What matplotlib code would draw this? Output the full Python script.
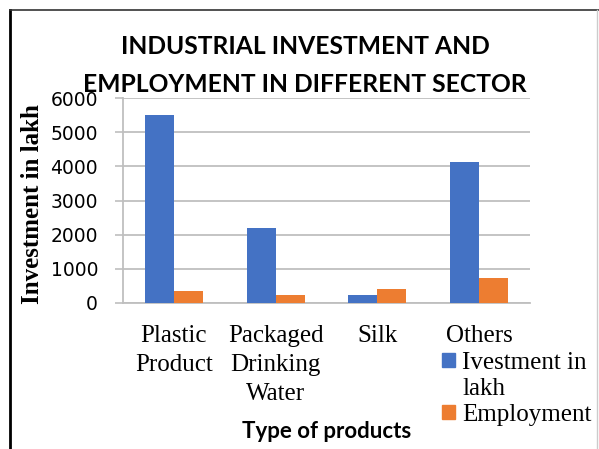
import matplotlib
matplotlib.use("Agg")
import matplotlib.pyplot as plt
import numpy as np
from matplotlib.patches import Patch
from matplotlib.lines import Line2D

categories = ["Plastic\nProduct", "Packaged\nDrinking\nWater", "Silk", "Others"]
investment = [5500, 2200, 230, 4130]
employment = [360, 240, 410, 740]
yticks = [0, 1000, 2000, 3000, 4000, 5000, 6000]

blue = "#4472C4"
orange = "#ED7D31"
grid = "#BFBFBF"

fig = plt.figure(figsize=(5.99, 4.49), dpi=100)
ax = fig.add_axes([123/599, 1-303/449, (530-123)/599, (303-98)/449])

x = np.arange(len(categories))
w = 1/3.5
ax.bar(x - w/2, investment, width=w, color=blue, zorder=3)
ax.bar(x + w/2, employment, width=w, color=orange, zorder=3)

ax.set_xlim(-0.5, len(categories) - 0.5)
ax.set_ylim(0, 6000)
ax.set_yticks(yticks)
ax.set_yticklabels([str(t) for t in yticks], family="DejaVu Sans", fontsize=13.5)
ax.yaxis.grid(True, color=grid, linewidth=1.3, zorder=0)
ax.tick_params(axis="y", length=6, width=1.2, color=grid, pad=12)
ax.set_xticks(x)
ax.set_xticklabels(categories, family="Liberation Serif", fontsize=18, linespacing=1.4, va="top")
ax.tick_params(axis="x", length=0, pad=16)
for s in ["top", "right"]:
    ax.spines[s].set_visible(False)
ax.spines["left"].set_color(grid)
ax.spines["bottom"].set_color(grid)
ax.spines["left"].set_linewidth(1.3)
ax.spines["bottom"].set_linewidth(1.3)

fig.text(33/599, 1-204/449, "Investment in lakh", rotation=90, ha="center", va="center",
         family="Liberation Serif", fontweight="bold", fontsize=18)
fig.text(327/599, 1-432/449, "Type of products", ha="center", va="center",
         family="Lato", fontweight="bold", fontsize=16)
fig.text(305/599, 1-46/449, "INDUSTRIAL INVESTMENT AND", ha="center", va="center",
         family="Lato", fontweight="bold", fontsize=17.7)
fig.text(305/599, 1-84.5/449, "EMPLOYMENT IN DIFFERENT SECTOR", ha="center", va="center",
         family="Lato", fontweight="bold", fontsize=17.7)

handles = [Patch(color=blue), Patch(color="none"), Patch(color=orange)]
labels = ["Ivestment in", "lakh", "Employment"]
leg = fig.legend(handles, labels, loc="upper left", bbox_to_anchor=(442/599, 1-352/449),
                 frameon=False, prop={"family": "Liberation Serif", "size": 18},
                 handlelength=0.5, handleheight=0.5, handletextpad=0.3,
                 labelspacing=0.15, borderpad=0, borderaxespad=0)

# frame of the chart box
fig.add_artist(Line2D([10/599, 10/599], [0, 1-10/449], color="black", linewidth=2, transform=fig.transFigure))
fig.add_artist(Line2D([10/599, 1], [1-10/449, 1-10/449], color="#333333", linewidth=1.2, transform=fig.transFigure))
fig.add_artist(Line2D([597/599, 597/599], [0, 1-10/449], color="#CCCCCC", linewidth=1, transform=fig.transFigure))

fig.savefig("out.png", dpi=100)
